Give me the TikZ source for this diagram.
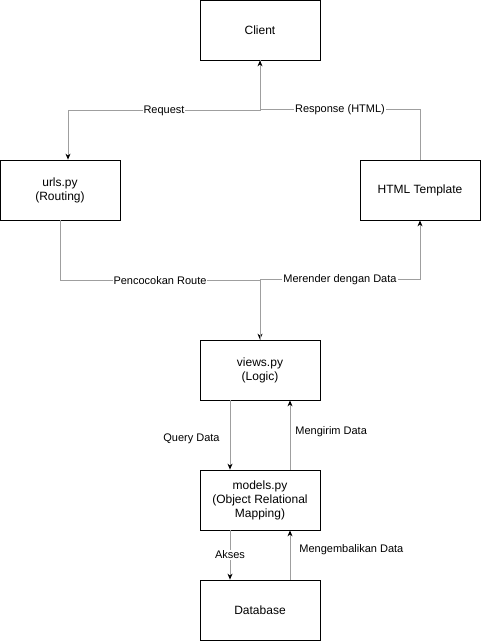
\documentclass[tikz,border=0pt]{standalone}
\usepackage{fontspec}
\setmainfont{Liberation Sans}
\usetikzlibrary{arrows.meta,positioning,calc}

\tikzset{
  block/.style={draw, line width=0.8pt, minimum width=120pt, minimum height=60pt,
    inner sep=2pt, align=center, font=\fontsize{12}{14}\selectfont},
  flow/.style={draw=gray!75, line width=0.8pt, -{Stealth[length=6pt,width=5pt,black]}},
  lbl/.style={fill=white, inner sep=1pt, font=\fontsize{11}{13}\selectfont},
  side/.style={inner sep=1pt, font=\fontsize{11}{13}\selectfont}
}

\begin{document}
\begin{tikzpicture}[x=1pt, y=-1pt]
  \useasboundingbox (0,0) rectangle (481,641);

  % Components
  \node[block] (client) at (260,30) {Client};
  \node[block] (urls) at (60,190) {urls.py\\(Routing)};
  \node[block] (html) at (420,190) {HTML Template};
  \node[block] (views) at (260,370) {views.py\\(Logic)};
  \node[block] (models) at (260,500) {models.py\\(Object Relational\\Mapping)};
  \node[block] (db) at (260,610) {Database};

  % Request / response
  \draw[flow] (client.south) -- ++(0,50) -| ([xshift=8pt]urls.north)
    node[lbl, pos=0.25] {Request};
  \draw[flow] (html.north) -- ++(0,-50) -| (client.south)
    node[lbl, pos=0.25] {Response (HTML)};

  % Routing and rendering
  \draw[flow] (urls.south) -- ++(0,60) -| (views.north)
    node[lbl, pos=0.25] {Pencocokan Route};
  \draw[flow] (views.north) -- ++(0,-60) -| (html.south)
    node[lbl, pos=0.25] {Merender dengan Data};

  % Logic <-> ORM
  \draw[flow] ([xshift=-30pt]views.south) -- ([xshift=-30pt]models.north)
    node[side, midway, left=9pt, yshift=-4pt] {Query Data};
  \draw[flow] ([xshift=30pt]models.north) -- ([xshift=30pt]views.south)
    node[side, midway, right=4pt, yshift=3pt] {Mengirim Data};

  % ORM <-> database
  \draw[flow] ([xshift=-30pt]models.south) -- ([xshift=-30pt]db.north)
    node[lbl, midway] {Akses};
  \draw[flow] ([xshift=30pt]db.north) -- ([xshift=30pt]models.south)
    node[side, midway, right=8pt, yshift=5pt] {Mengembalikan Data};
\end{tikzpicture}
\end{document}
